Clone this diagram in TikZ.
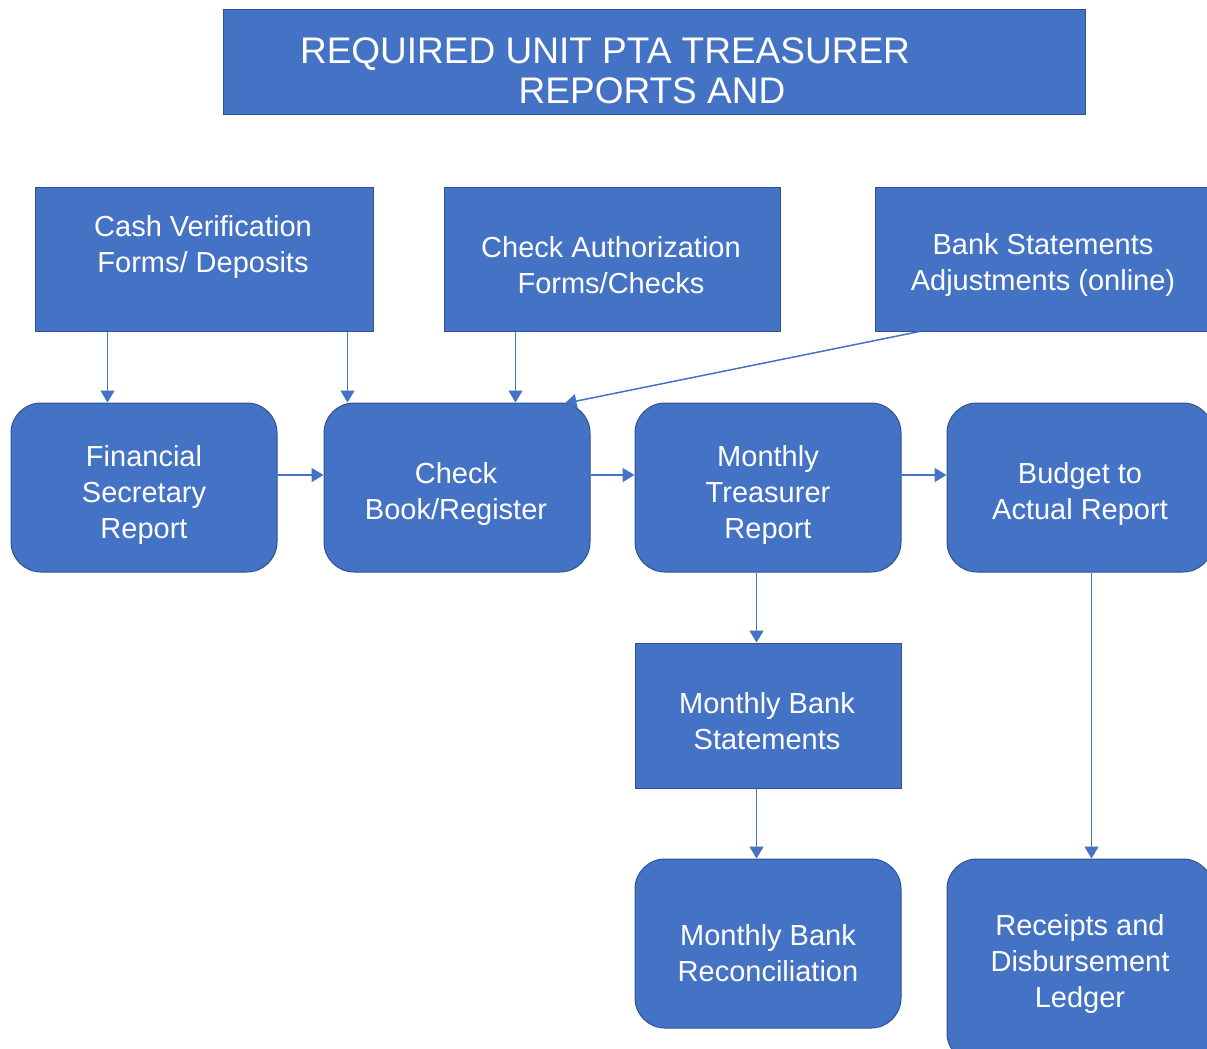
\documentclass[tikz,border=0pt]{standalone}
\usepackage{fontspec}
\setmainfont{Liberation Sans}
\usetikzlibrary{arrows.meta,calc}
\definecolor{boxfill}{HTML}{4472C4}
\definecolor{boxline}{HTML}{2F528F}
\definecolor{arrowc}{HTML}{4472C4}
\begin{document}
\begin{tikzpicture}[x=1pt,y=-1pt,
  sq/.style={draw=boxline, fill=boxfill, line width=1pt, inner sep=0pt},
  rnd/.style={sq, rounded corners=30pt},
  txt/.style={text=white, align=center, inner sep=0pt, font=\fontsize{29}{36}\selectfont},
  ttl/.style={text=white, inner sep=0pt, font=\fontsize{37}{40}\selectfont},
  arr/.style={draw=arrowc, line width=1.5pt, -{Triangle[length=12pt,width=14pt]}}]
\useasboundingbox (0,0) rectangle (1207,1049);
\clip (0,0) rectangle (1207,1049);
% title
\node[sq, minimum width=862pt, minimum height=104pt] (title) at (654,62) {};
\node[ttl] (t1) at (605,54) {REQUIRED UNIT PTA TREASURER};
\node[ttl] (t2) at (652,91) {REPORTS AND};
% top row
\node[sq, minimum width=338pt, minimum height=144pt] (cash) at (204,259) {};
\node[txt] (cashT) at (203,247) {Cash Verification\\Forms/ Deposits};
\node[sq, minimum width=336pt, minimum height=144pt] (auth) at (612,259) {};
\node[txt] (authT) at (611,265) {Check Authorization\\Forms/Checks};
\node[sq, minimum width=338pt, minimum height=144pt] (bank) at (1044,259) {};
\node[txt] (bankT) at (1043,265) {Bank Statements\\Adjustments (online)};
% middle row
\node[rnd, minimum width=266pt, minimum height=169pt] (fin) at (144,487.5) {};
\node[txt] (finT) at (144,495) {Financial\\Secretary\\Report};
\node[rnd, minimum width=266pt, minimum height=169pt] (chk) at (457,487.5) {};
\node[txt] (chkT) at (456,494) {Check\\Book/Register};
\node[rnd, minimum width=266pt, minimum height=169pt] (mtr) at (768,487.5) {};
\node[txt] (mtrT) at (768,495) {Monthly\\Treasurer\\Report};
\node[rnd, minimum width=266pt, minimum height=169pt] (bud) at (1080,487.5) {};
\node[txt] (budT) at (1080,494) {Budget to\\Actual Report};
% lower
\node[sq, minimum width=266pt, minimum height=145pt] (mbs) at (768,715.5) {};
\node[txt] (mbsT) at (767,721) {Monthly Bank\\Statements};
\node[rnd, minimum width=266pt, minimum height=169pt] (mbr) at (768,943.5) {};
\node[txt] (mbrT) at (768,953) {Monthly Bank\\Reconciliation};
\node[rnd, minimum width=266pt, minimum height=204pt] (rdl) at (1080,961) {};
\node[txt] (rdlT) at (1080,964) {Receipts and\\Disbursement\\Ledger};
% arrows
\draw[arr] ([xshift=73pt]cash.south west) -- ([xshift=97pt]fin.north west);
\draw[arr] ([xshift=313pt]cash.south west) -- ([xshift=24pt]chk.north west);
\draw[arr] ([xshift=72pt]auth.south west) -- ([xshift=192pt]chk.north west);
\draw[arr] ([xshift=45pt]bank.south west) -- ([xshift=241pt,yshift=-1pt]chk.north west);
\draw[arr] ([yshift=12.5pt]fin.east) -- ([yshift=12.5pt]chk.west);
\draw[arr] ([yshift=12.5pt]chk.east) -- ([yshift=12.5pt]mtr.west);
\draw[arr] ([yshift=12.5pt]mtr.east) -- ([yshift=12.5pt]bud.west);
\draw[arr] ([xshift=122pt]mtr.south west) -- ([xshift=122pt]mbs.north west);
\draw[arr] ([xshift=122pt]mbs.south west) -- ([xshift=122pt]mbr.north west);
\draw[arr] ([xshift=145pt]bud.south west) -- ([xshift=145pt]rdl.north west);
\end{tikzpicture}
\end{document}
